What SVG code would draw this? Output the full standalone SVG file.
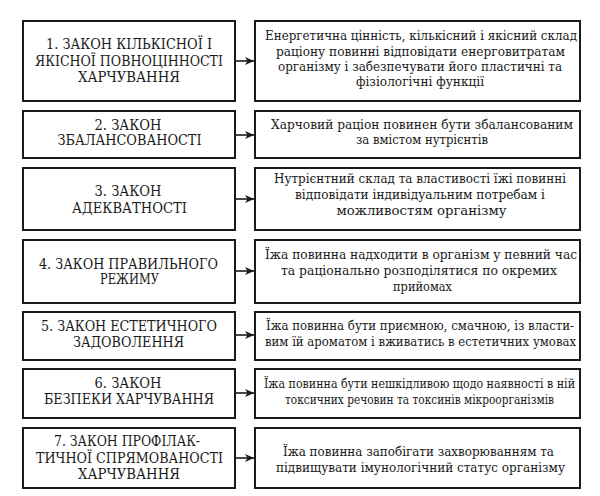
<svg xmlns="http://www.w3.org/2000/svg" width="600" height="496" viewBox="0 0 600 496">
<style>
.box{fill:#fff;stroke:#1a1a1a;stroke-width:2}
.t{fill:#1a1a1a;text-anchor:middle;font-family:'DejaVu Serif Condensed','DejaVu Serif',serif;font-stretch:condensed}
.l{font-size:14px}
.r{font-size:13px}
.c{stroke:#1a1a1a;stroke-width:1.6;fill:none}
</style>
<defs>
<marker id="ah" markerWidth="10" markerHeight="8" refX="9" refY="4" orient="auto" markerUnits="userSpaceOnUse">
<path d="M0,0 L9,4 L0,8 L2.5,4 Z" fill="#1a1a1a"/>
</marker>
</defs>
<rect width="600" height="496" fill="#fff"/>
<g id="connectors">
<line class="c" x1="235" y1="61" x2="254" y2="61" marker-end="url(#ah)"/>
<line class="c" x1="235" y1="135" x2="254" y2="135" marker-end="url(#ah)"/>
<line class="c" x1="235" y1="199" x2="254" y2="199" marker-end="url(#ah)"/>
<line class="c" x1="235" y1="271" x2="254" y2="271" marker-end="url(#ah)"/>
<line class="c" x1="235" y1="335" x2="254" y2="335" marker-end="url(#ah)"/>
<line class="c" x1="235" y1="393" x2="254" y2="393" marker-end="url(#ah)"/>
<line class="c" x1="235" y1="458" x2="254" y2="458" marker-end="url(#ah)"/>
</g>
<g id="law1">
<rect class="box" x="23" y="21" width="212" height="80"/>
<text class="t l" x="129" y="49" textLength="166" lengthAdjust="spacingAndGlyphs">1. ЗАКОН КІЛЬКІСНОЇ І</text>
<text class="t l" x="129" y="66" textLength="188" lengthAdjust="spacingAndGlyphs">ЯКІСНОЇ ПОВНОЦІННОСТІ</text>
<text class="t l" x="129" y="82" textLength="102" lengthAdjust="spacingAndGlyphs">ХАРЧУВАННЯ</text>
</g>
<g id="desc1">
<rect class="box" x="255" y="21" width="325" height="80"/>
<text class="t r" x="421" y="40" textLength="312" lengthAdjust="spacingAndGlyphs">Енергетична цінність, кількісний і якісний склад</text>
<text class="t r" x="420.5" y="56" textLength="289" lengthAdjust="spacingAndGlyphs">раціону повинні відповідати енерговитратам</text>
<text class="t r" x="420" y="71" textLength="284" lengthAdjust="spacingAndGlyphs">організму і забезпечувати його пластичні та</text>
<text class="t r" x="420" y="86" textLength="128" lengthAdjust="spacingAndGlyphs">фізіологічні функції</text>
</g>
<g id="law2">
<rect class="box" x="23" y="111" width="212" height="47"/>
<text class="t l" x="128" y="130" textLength="67" lengthAdjust="spacingAndGlyphs">2. ЗАКОН</text>
<text class="t l" x="129.5" y="145" textLength="144" lengthAdjust="spacingAndGlyphs">ЗБАЛАНСОВАНОСТІ</text>
</g>
<g id="desc2">
<rect class="box" x="255" y="111" width="325" height="47"/>
<text class="t r" x="422" y="129" textLength="302" lengthAdjust="spacingAndGlyphs">Харчовий раціон повинен бути збалансованим</text>
<text class="t r" x="422" y="144" textLength="132" lengthAdjust="spacingAndGlyphs">за вмістом нутрієнтів</text>
</g>
<g id="law3">
<rect class="box" x="23" y="168" width="212" height="62"/>
<text class="t l" x="128" y="196" textLength="67" lengthAdjust="spacingAndGlyphs">3. ЗАКОН</text>
<text class="t l" x="129.5" y="213" textLength="115" lengthAdjust="spacingAndGlyphs">АДЕКВАТНОСТІ</text>
</g>
<g id="desc3">
<rect class="box" x="255" y="168" width="325" height="62"/>
<text class="t r" x="420" y="183" textLength="292" lengthAdjust="spacingAndGlyphs">Нутрієнтний склад та властивості їжі повинні</text>
<text class="t r" x="420" y="199" textLength="250" lengthAdjust="spacingAndGlyphs">відповідати індивідуальним потребам і</text>
<text class="t r" x="421.5" y="215" textLength="170" lengthAdjust="spacingAndGlyphs">можливостям організму</text>
</g>
<g id="law4">
<rect class="box" x="23" y="240" width="212" height="63"/>
<text class="t l" x="128.5" y="269" textLength="179" lengthAdjust="spacingAndGlyphs">4. ЗАКОН ПРАВИЛЬНОГО</text>
<text class="t l" x="129.5" y="284" textLength="59" lengthAdjust="spacingAndGlyphs">РЕЖИМУ</text>
</g>
<g id="desc4">
<rect class="box" x="255" y="240" width="325" height="63"/>
<text class="t r" x="421" y="259" textLength="312" lengthAdjust="spacingAndGlyphs">Їжа повинна надходити в організм у певний час</text>
<text class="t r" x="419" y="275" textLength="276" lengthAdjust="spacingAndGlyphs">та раціонально розподілятися по окремих</text>
<text class="t r" x="422.5" y="291" textLength="59" lengthAdjust="spacingAndGlyphs">прийомах</text>
</g>
<g id="law5">
<rect class="box" x="23" y="312" width="212" height="48"/>
<text class="t l" x="129" y="331" textLength="176" lengthAdjust="spacingAndGlyphs">5. ЗАКОН ЕСТЕТИЧНОГО</text>
<text class="t l" x="128.5" y="347" textLength="111" lengthAdjust="spacingAndGlyphs">ЗАДОВОЛЕННЯ</text>
</g>
<g id="desc5">
<rect class="box" x="255" y="312" width="325" height="48"/>
<text class="t r" x="420" y="330" textLength="308" lengthAdjust="spacingAndGlyphs">Їжа повинна бути приємною, смачною, із власти-</text>
<text class="t r" x="420.5" y="346" textLength="311" lengthAdjust="spacingAndGlyphs">вим їй ароматом і вживатись в естетичних умовах</text>
</g>
<g id="law6">
<rect class="box" x="23" y="369" width="212" height="49"/>
<text class="t l" x="128" y="388" textLength="67" lengthAdjust="spacingAndGlyphs">6. ЗАКОН</text>
<text class="t l" x="129" y="404" textLength="170" lengthAdjust="spacingAndGlyphs">БЕЗПЕКИ ХАРЧУВАННЯ</text>
</g>
<g id="desc6">
<rect class="box" x="255" y="369" width="325" height="49"/>
<text class="t r" x="419.5" y="388" textLength="311" lengthAdjust="spacingAndGlyphs">Їжа повинна бути нешкідливою щодо наявності в ній</text>
<text class="t r" x="419.5" y="404" textLength="269" lengthAdjust="spacingAndGlyphs">токсичних речовин та токсинів мікроорганізмів</text>
</g>
<g id="law7">
<rect class="box" x="23" y="428" width="212" height="60"/>
<text class="t l" x="127" y="446" textLength="146" lengthAdjust="spacingAndGlyphs">7. ЗАКОН ПРОФІЛАК-</text>
<text class="t l" x="129.5" y="463" textLength="187" lengthAdjust="spacingAndGlyphs">ТИЧНОЇ СПРЯМОВАНОСТІ</text>
<text class="t l" x="129" y="479" textLength="102" lengthAdjust="spacingAndGlyphs">ХАРЧУВАННЯ</text>
</g>
<g id="desc7">
<rect class="box" x="255" y="428" width="325" height="60"/>
<text class="t r" x="418.5" y="456" textLength="271" lengthAdjust="spacingAndGlyphs">Їжа повинна запобігати захворюванням та</text>
<text class="t r" x="420.5" y="472" textLength="289" lengthAdjust="spacingAndGlyphs">підвищувати імунологічний статус організму</text>
</g>
</svg>
